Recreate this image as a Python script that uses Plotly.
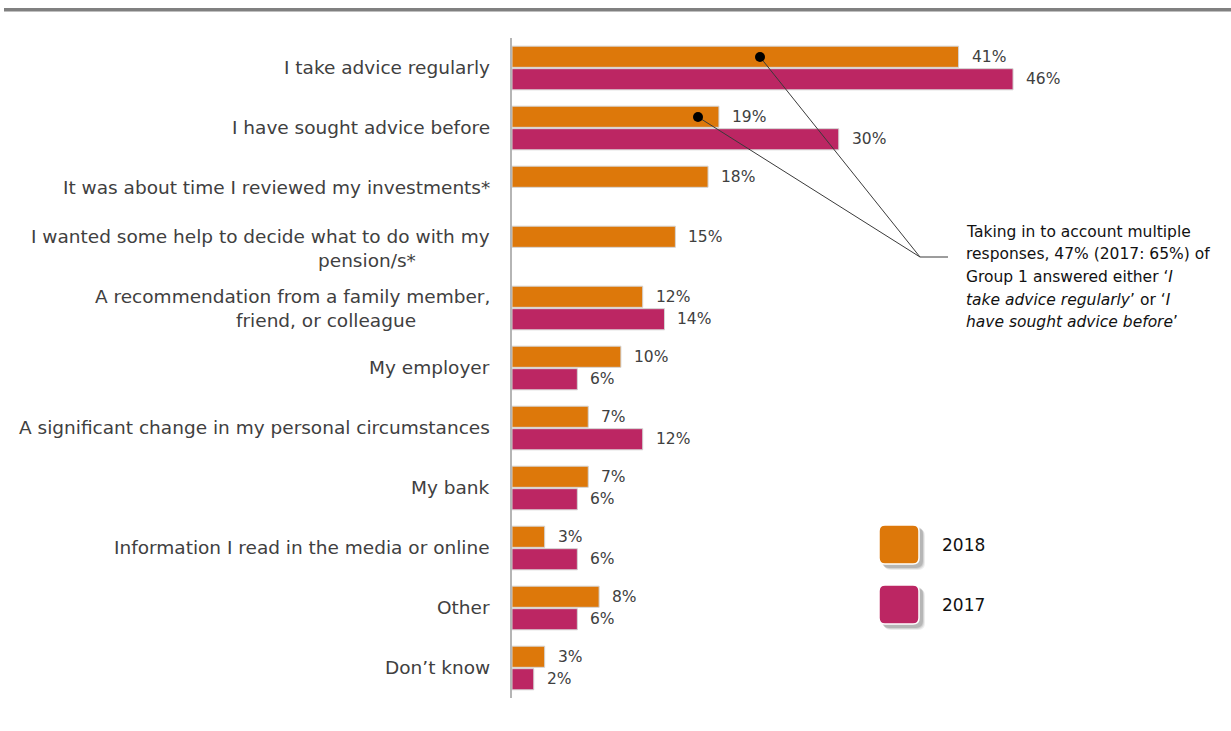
import plotly.graph_objects as go

# Survey responses: reasons for taking advice (share of respondents, %)
categories = [
    "I take advice regularly",
    "I have sought advice before",
    "It was about time I reviewed my investments*",
    "I wanted some help to decide what to do with my|pension/s*",
    "A recommendation from a family member,|friend, or colleague",
    "My employer",
    "A significant change in my personal circumstances",
    "My bank",
    "Information I read in the media or online",
    "Other",
    "Don\u2019t know",
]
values_2018 = [41, 19, 18, 15, 12, 10, 7, 7, 3, 8, 3]
values_2017 = [46, 30, None, None, 14, 6, 12, 6, 6, 6, 2]
series_names = ["2018", "2017"]

note_lines = [
    "Taking in to account multiple",
    "responses, 47% (2017: 65%) of",
    "Group 1 answered either \u2018<i>I</i>",
    "<i>take advice regularly</i>\u2019 or \u2018<i>I</i>",
    "<i>have sought advice before</i>\u2019",
]

ORANGE = "#DD780A"
MAGENTA = "#BC2663"
TEXT = "#404040"

W, H = 1231, 731
ML, MR, MT, MB = 512, 11, 38, 33
PW, PH = W - ML - MR, H - MT - MB
X_MAX = 65

ids = list(range(len(categories)))


def px(x):
    """Page pixel column -> paper x (relative to the plot area)."""
    return (x - ML) / PW


def py(y):
    """Page pixel row -> paper y (relative to the plot area)."""
    return (H - MB - y) / PH


fig = go.Figure()
for name, vals, color in [(series_names[0], values_2018, ORANGE),
                          (series_names[1], values_2017, MAGENTA)]:
    fig.add_trace(go.Bar(
        name=name, y=ids, x=vals, orientation="h",
        marker=dict(color=color, line=dict(color="#d4d4d4", width=1)),
        showlegend=False, hoverinfo="skip",
    ))

annotations = []
LABEL_FONT = dict(size=18.5, color=TEXT)
# category labels (wrapped lines use separate right edges)
for i, cat in enumerate(categories):
    lines = cat.split("|")
    if len(lines) == 1:
        annotations.append(dict(
            x=px(492), xref="paper", y=i, yref="y", text=lines[0],
            xanchor="right", yanchor="middle", yshift=1, showarrow=False,
            font=LABEL_FONT))
    else:
        annotations.append(dict(
            x=px(492), xref="paper", y=i, yref="y", text=lines[0],
            xanchor="right", yanchor="middle", yshift=12, showarrow=False,
            font=LABEL_FONT))
        annotations.append(dict(
            x=px(418), xref="paper", y=i, yref="y", text=lines[1],
            xanchor="right", yanchor="middle", yshift=-12, showarrow=False,
            font=LABEL_FONT))

# value labels just past the end of each bar
for vals, shift in [(values_2018, 11), (values_2017, -11)]:
    for i, v in enumerate(vals):
        if v is None:
            continue
        annotations.append(dict(
            x=v, xref="x", y=i, yref="y", text=f"{v}%",
            xanchor="left", yanchor="middle", xshift=11, yshift=shift,
            showarrow=False, font=dict(size=15.5, color=TEXT)))

# callout note, one line at a time for the wider line spacing
for k, line in enumerate(note_lines):
    annotations.append(dict(
        x=px(964), xref="paper", y=py(232 + 22.5 * k), yref="paper",
        text=line, xanchor="left", yanchor="middle", align="left",
        showarrow=False, font=dict(size=15.5, color="#111111")))

# legend labels
for name, yc in [(series_names[0], 545), (series_names[1], 605)]:
    annotations.append(dict(
        x=px(940), xref="paper", y=py(yc), yref="paper", text=name,
        xanchor="left", yanchor="middle", showarrow=False,
        font=dict(size=17, color="#111111")))


def rounded_rect(x0, y0, x1, y1, r):
    X0, X1 = px(x0), px(x1)
    Y0, Y1 = py(y0), py(y1)
    rx, ry = r / PW, r / PH
    return (f"M{X0 + rx},{Y0} L{X1 - rx},{Y0} Q{X1},{Y0} {X1},{Y0 - ry} "
            f"L{X1},{Y1 + ry} Q{X1},{Y1} {X1 - rx},{Y1} L{X0 + rx},{Y1} "
            f"Q{X0},{Y1} {X0},{Y1 + ry} L{X0},{Y0 - ry} Q{X0},{Y0} {X0 + rx},{Y0} Z")


shapes = [
    # top rule
    dict(type="rect", xref="paper", yref="paper", x0=px(4), x1=px(W),
         y0=py(11.5), y1=py(8), fillcolor="#808080", line=dict(width=0)),
    # callout leader lines
    dict(type="line", xref="paper", yref="paper", x0=px(760), y0=py(57),
         x1=px(920), y1=py(257), line=dict(color="#3a3a3a", width=1)),
    dict(type="line", xref="paper", yref="paper", x0=px(698), y0=py(117),
         x1=px(920), y1=py(257), line=dict(color="#3a3a3a", width=1)),
    dict(type="line", xref="paper", yref="paper", x0=px(920), y0=py(257),
         x1=px(948), y1=py(257), line=dict(color="#3a3a3a", width=1)),
    dict(type="circle", xref="paper", yref="paper", x0=px(755), x1=px(765),
         y0=py(62), y1=py(52), fillcolor="black", line=dict(width=0)),
    dict(type="circle", xref="paper", yref="paper", x0=px(693), x1=px(703),
         y0=py(122), y1=py(112), fillcolor="black", line=dict(width=0)),
]
# legend swatches with soft shadow
for color, y0 in [(ORANGE, 525), (MAGENTA, 585)]:
    for d, a in [(5, 0.07), (4, 0.1), (3, 0.14)]:
        shapes.append(dict(type="path", xref="paper", yref="paper",
                           path=rounded_rect(880 + d - 1, y0 + d - 1,
                                             920 + d, y0 + 40 + d, 7),
                           fillcolor=f"rgba(0,0,0,{a})", line=dict(width=0)))
    shapes.append(dict(type="path", xref="paper", yref="paper",
                       path=rounded_rect(879, y0, 919, y0 + 39, 6),
                       fillcolor=color, line=dict(color="white", width=1.5)))

fig.update_layout(
    width=W, height=H,
    margin=dict(l=ML, r=MR, t=MT, b=MB),
    paper_bgcolor="white", plot_bgcolor="white",
    barmode="group", bargap=0.25, bargroupgap=0.06,
    font=dict(family="DejaVu Sans", color=TEXT),
    xaxis=dict(range=[0, X_MAX], visible=False, fixedrange=True),
    yaxis=dict(range=[len(categories) - 0.5, -0.5], showticklabels=False,
               showgrid=False, zeroline=False, ticks="",
               showline=True, linecolor="#b5b5b5", linewidth=2),
    annotations=annotations, shapes=shapes,
)

fig.write_html("out.html")
